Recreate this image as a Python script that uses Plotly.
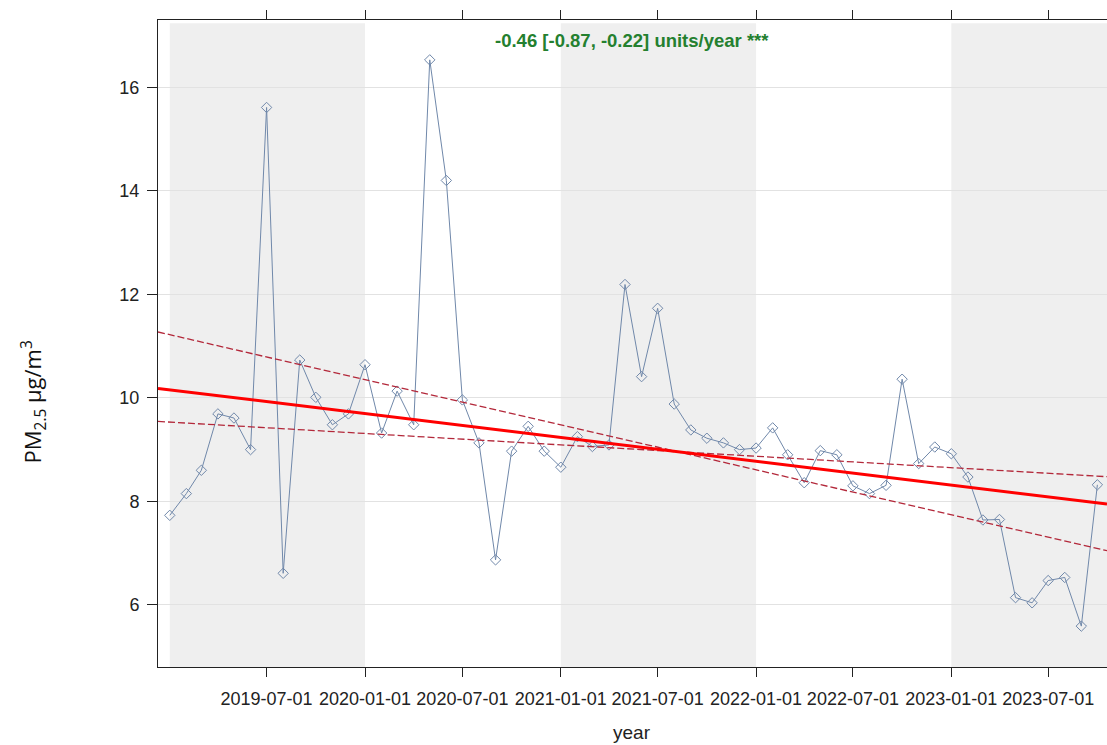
import pandas as pd
import plotly.graph_objects as go

# ---- data ----
months = pd.date_range("2019-01-01", periods=58, freq="MS")
pm25 = [7.73, 8.15, 8.60, 9.69, 9.61, 9.00, 15.61, 6.61, 10.73, 10.01, 9.48, 9.69,
        10.64, 9.32, 10.13, 9.48, 16.53, 14.20, 9.96, 9.13, 6.87, 8.97, 9.45, 8.97,
        8.66, 9.25, 9.06, 9.09, 12.19, 10.41, 11.73, 9.88, 9.38, 9.22, 9.13, 9.00,
        9.03, 9.42, 8.90, 8.36, 8.98, 8.90, 8.30, 8.15, 8.31, 10.36, 8.73, 9.05,
        8.92, 8.47, 7.64, 7.65, 6.14, 6.04, 6.47, 6.53, 5.59, 8.32]

# Theil-Sen trend: slope and its confidence interval (units/year), pivot point
trend_slope = -0.46
ci_lower_slope = -0.87
ci_upper_slope = -0.22
pivot_date = pd.Timestamp("2021-08-07")
pivot_value = 8.96

x_start = pd.Timestamp("2018-12-10")
x_end = pd.Timestamp("2023-10-19")

x_tick_vals = ["2019-07-01", "2020-01-01", "2020-07-01", "2021-01-01", "2021-07-01",
               "2022-01-01", "2022-07-01", "2023-01-01", "2023-07-01"]
x_tick_text = x_tick_vals
y_tick_vals = [6, 8, 10, 12, 14, 16]

shaded_years = [("2019-01-01", "2020-01-01"), ("2021-01-01", "2022-01-01"),
                ("2023-01-01", "2024-01-01")]

annotation_text = "-0.46 [-0.87, -0.22] units/year ***"


def line_vals(slope):
    ends = [x_start, x_end]
    return ends, [pivot_value + slope * (d - pivot_date).days / 365.25 for d in ends]


fig = go.Figure()

# data series
fig.add_trace(go.Scatter(
    x=months, y=pm25, mode="lines+markers",
    line=dict(color="#7088AA", width=1),
    marker=dict(symbol="diamond-open", size=8, color="#7088AA", line=dict(width=1)),
    showlegend=False, hoverinfo="x+y"))

# CI dashed lines
for s in (ci_lower_slope, ci_upper_slope):
    xs, ys = line_vals(s)
    fig.add_trace(go.Scatter(x=xs, y=ys, mode="lines",
                             line=dict(color="#B3283A", width=1.3, dash="7px,3px"),
                             showlegend=False))

# main trend
xs, ys = line_vals(trend_slope)
fig.add_trace(go.Scatter(x=xs, y=ys, mode="lines",
                         line=dict(color="#FF0000", width=3), showlegend=False))

shapes = []
for a, b in shaded_years:
    shapes.append(dict(type="rect", xref="x", yref="paper", x0=a, x1=b, y0=0, y1=0.995,
                       fillcolor="#EFEFEF", line=dict(width=0), layer="below"))

font_family = "Liberation Sans, Arial, sans-serif"

fig.update_layout(
    width=1107, height=745,
    margin=dict(l=158, r=0, t=20, b=78),
    paper_bgcolor="white", plot_bgcolor="white",
    shapes=shapes,
    font=dict(family=font_family, size=18, color="#222222"),
    xaxis=dict(
        range=[x_start, x_end], tickmode="array", tickvals=x_tick_vals, ticktext=x_tick_text,
        showgrid=False, zeroline=False, showline=True, linecolor="#222222", linewidth=1,
        mirror="ticks", ticks="outside", ticklen=9, tickcolor="#222222",
        tickfont=dict(size=18, color="#222222"), ticklabelstandoff=6,
    ),
    yaxis=dict(
        range=[4.80, 17.30], tickmode="array", tickvals=y_tick_vals,
        showgrid=True, gridcolor="#E2E2E2", gridwidth=1, zeroline=False,
        showline=True, linecolor="#222222", linewidth=1, mirror=False,
        ticks="outside", ticklen=10, tickcolor="#222222",
        tickfont=dict(size=18, color="#222222"), ticklabelstandoff=4,
    ),
    annotations=[
        dict(text=annotation_text, xref="paper", yref="paper", x=0.4995, y=0.969,
             xanchor="center", yanchor="middle", showarrow=False,
             font=dict(family=font_family, size=18.5, color="#24802F", weight="bold")),
        dict(text="year", xref="paper", yref="paper", x=0.4995, y=-0.102,
             xanchor="center", yanchor="middle", showarrow=False,
             font=dict(family=font_family, size=19, color="#222222")),
        dict(text="PM<sub>2.5</sub> μg/m<sup>3</sup>", xref="paper", yref="paper",
             x=-0.131, y=0.41, xanchor="center", yanchor="middle", textangle=-90,
             showarrow=False, font=dict(family="Open Sans, Noto Sans, sans-serif",
                                        size=22, color="#111111")),
    ],
)

fig.write_html("out.html")
